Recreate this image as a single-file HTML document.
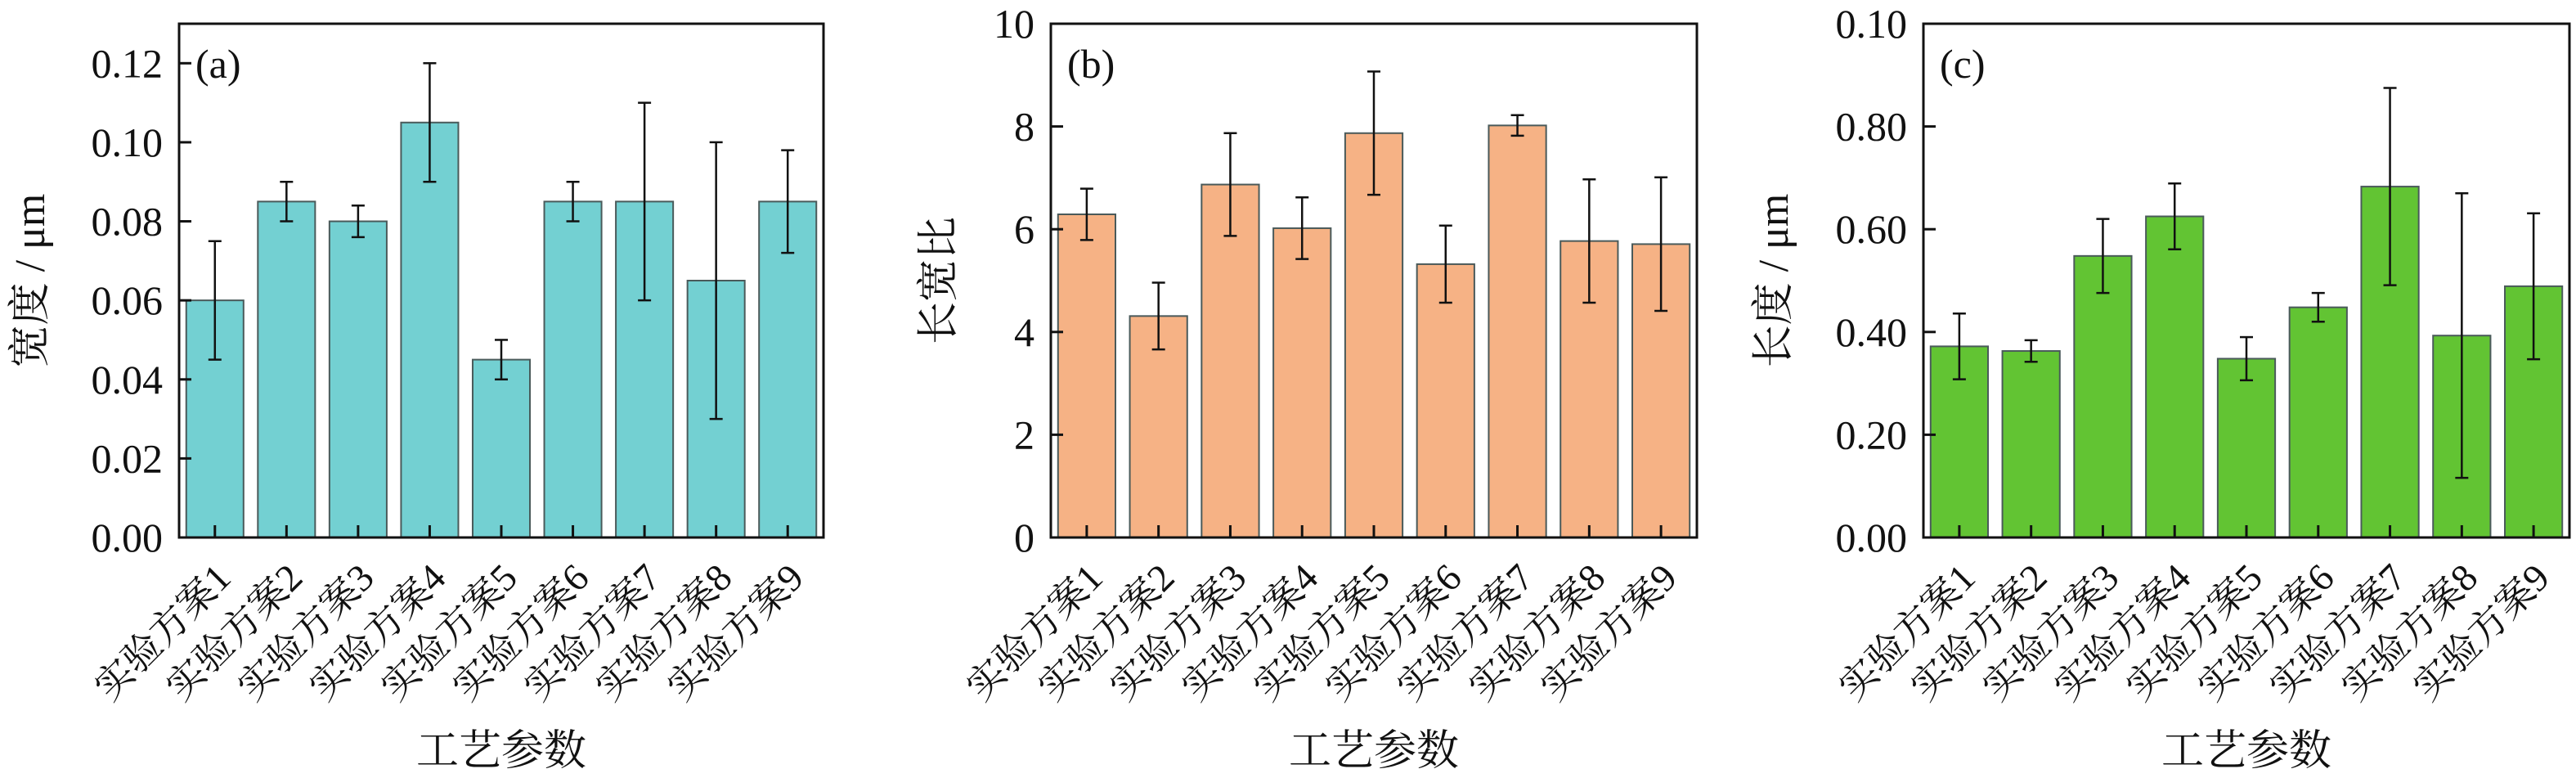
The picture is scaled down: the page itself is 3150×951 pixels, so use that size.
<!DOCTYPE html>
<html><head><meta charset="utf-8">
<style>
html,body{margin:0;padding:0;background:#fff;}
</style></head>
<body>
<svg id="chart" width="3150" height="946" viewBox="0 0 3150 946" xmlns="http://www.w3.org/2000/svg"></svg>
<script>
const categories = ["实验方案1","实验方案2","实验方案3","实验方案4","实验方案5","实验方案6","实验方案7","实验方案8","实验方案9"];
const widthValues = [0.060,0.085,0.080,0.105,0.045,0.085,0.085,0.065,0.085];
const widthErrors = [0.015,0.005,0.004,0.015,0.005,0.005,0.025,0.035,0.013];
const ratioValues = [6.29,4.31,6.87,6.02,7.87,5.32,8.02,5.77,5.71];
const ratioErrors = [0.50,0.65,1.00,0.60,1.20,0.75,0.20,1.20,1.30];
const lengthValues = [0.372,0.363,0.548,0.625,0.348,0.448,0.683,0.393,0.489];
const lengthErrors = [0.064,0.021,0.072,0.064,0.042,0.028,0.192,0.277,0.142];
const widthTicks = [0,0.02,0.04,0.06,0.08,0.10,0.12];
const widthTickLabels = ["0.00","0.02","0.04","0.06","0.08","0.10","0.12"];
const ratioTicks = [0,2,4,6,8,10];
const ratioTickLabels = ["0","2","4","6","8","10"];
const lengthTicks = [0,0.2,0.4,0.6,0.8,1.0];
const lengthTickLabels = ["0.00","0.20","0.40","0.60","0.80","0.10"];

const NS = "http://www.w3.org/2000/svg";
const FONT = "'Liberation Serif', 'Times New Roman', 'Noto Serif CJK SC', 'DejaVu Serif', serif";
const svg = document.getElementById('chart');
function mk(tag, attrs, parent){
  const e = document.createElementNS(NS, tag);
  for (const k in attrs) e.setAttribute(k, attrs[k]);
  if (tag === 'text') { e.setAttribute('font-family', FONT); e.setAttribute('fill', '#111'); }
  (parent||svg).appendChild(e);
  return e;
}
const TOP = 29, BOTTOM = 657;

function panel(id, left, right, ymax, values, errors, ticks, tickLabels, color, letter, ytitle, ytitleX){
  const g = mk('g', {});
  
  
  const band = (right-left)/categories.length;
  const xc = i => left + band*(i+0.5);
  const y = v => BOTTOM - (v/ymax)*(BOTTOM-TOP);
  const bw = band*0.8;
  values.forEach((v,i)=>{
    const r = mk('rect', {x:xc(i)-bw/2, y:y(v), width:bw, height:BOTTOM-y(v), fill:color, stroke:'#4a5a5a', 'stroke-width':2}, g);
    
    
  });
  values.forEach((v,i)=>{
    const e = errors[i], x = xc(i);
    const eb = mk('g', {stroke:'#111','stroke-width':2.5}, g);
    
    
    mk('line', {x1:x, x2:x, y1:y(v+e), y2:y(v-e)}, eb);
    mk('line', {x1:x-8, x2:x+8, y1:y(v+e), y2:y(v+e)}, eb);
    mk('line', {x1:x-8, x2:x+8, y1:y(v-e), y2:y(v-e)}, eb);
  });
  const box = mk('rect', {x:left, y:TOP, width:right-left, height:BOTTOM-TOP, fill:'none', stroke:'#111','stroke-width':3}, g);
  
  
  ticks.forEach((t,i)=>{
    mk('line', {x1:left, x2:left+15, y1:y(t), y2:y(t), stroke:'#111','stroke-width':3}, g);
    const tx = mk('text', {x:left-20, y:y(t)+17, 'text-anchor':'end', 'font-size':50}, g);
    
    
    tx.textContent = tickLabels[i];
  });
  categories.forEach((c,i)=>{
    const x = xc(i);
    mk('line', {x1:x, x2:x, y1:BOTTOM, y2:BOTTOM-15, stroke:'#111','stroke-width':3}, g);
    const tx = mk('text', {x:0, y:0, 'text-anchor':'end', 'font-size':47, transform:'translate(' + (x+22) + ',' + (BOTTOM+52) + ') rotate(-45)'}, g);
    
    
    tx.textContent = c;
  });
  const lt = mk('text', {x:left+20, y:95, 'font-size':50}, g);
  
  
  lt.textContent = letter;
  const xt = mk('text', {x:(left+right)/2, y:935, 'text-anchor':'middle', 'font-size':52}, g);
  
  
  xt.textContent = '工艺参数';
  const yt = mk('text', {x:0, y:0, 'text-anchor':'middle', 'font-size':52, transform:'translate(' + ytitleX + ',' + 343 + ') rotate(-90)'}, g);
  
  
  yt.textContent = ytitle;
}
panel('a', 219, 1007, 0.13, widthValues, widthErrors, widthTicks, widthTickLabels, '#73D0D2', '(a)', '宽度 / μm', 54);
panel('b', 1285, 2075, 10, ratioValues, ratioErrors, ratioTicks, ratioTickLabels, '#F6B285', '(b)', '长宽比', 1165);
panel('c', 2352, 3142, 1.0, lengthValues, lengthErrors, lengthTicks, lengthTickLabels, '#62C433', '(c)', '长度 / μm', 2186);
</script>
</body></html>
